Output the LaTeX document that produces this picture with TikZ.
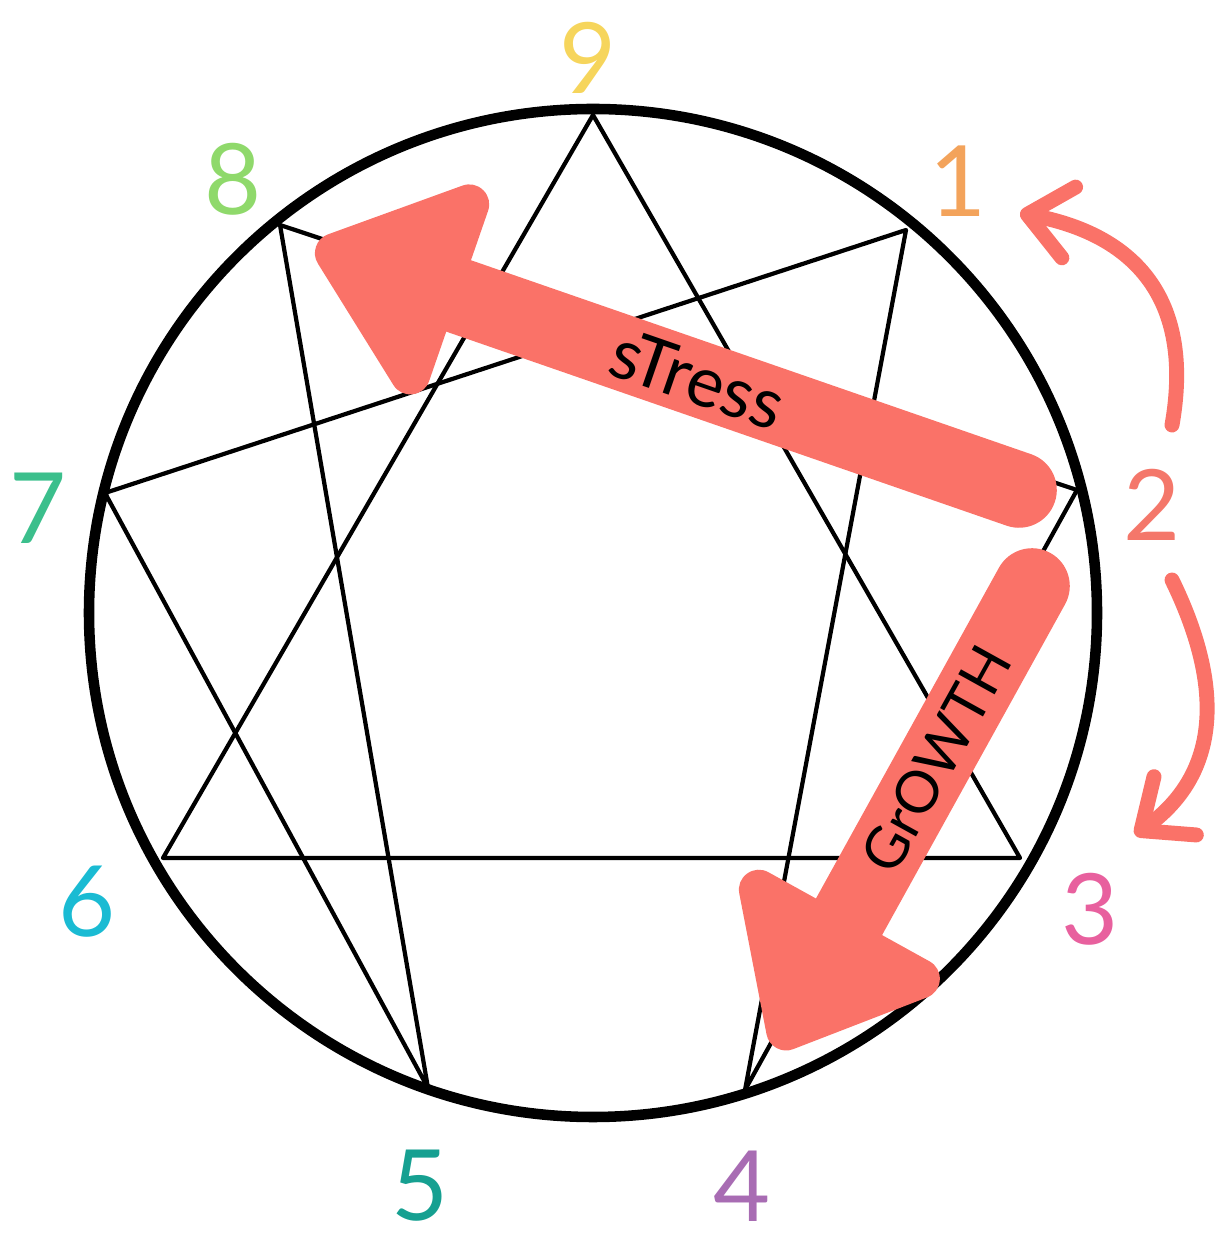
\documentclass[tikz,border=0pt]{standalone}
\usepackage{fontspec}
\setmainfont{Lato}
\usetikzlibrary{arrows.meta}
\definecolor{coral}{HTML}{FA7268}
\definecolor{nine}{HTML}{F6D55C}
\definecolor{one}{HTML}{F3A35B}
\definecolor{two}{HTML}{F4776A}
\definecolor{three}{HTML}{E8609E}
\definecolor{four}{HTML}{A86CB3}
\definecolor{five}{HTML}{16A091}
\definecolor{six}{HTML}{1ABBD3}
\definecolor{seven}{HTML}{3BBF8C}
\definecolor{eight}{HTML}{8FD96B}

\begin{document}
\begin{tikzpicture}[x=0.02cm,y=0.02cm,
  ring/.style={line width=6pt},
  web/.style={line width=2.4pt,line join=round},
  digit/.style={font=\fontsize{56}{56}\selectfont,inner sep=0pt},
  curl/.style={draw=coral,line width=8.5pt,line cap=round,
    -{Straight Barb[length=24pt,width=41pt,round]}},
  fatshaft/.style={draw=coral,line width=43pt,line cap=round},
  fathead/.style={fill=coral,draw=coral,line width=22.7pt,line join=round},
  tag/.style={text=black,inner sep=0pt}]
  \useasboundingbox (0,0) rectangle (1221,1233);

  % Circle and the nine points
  \coordinate (c) at (593,620);
  \draw[ring] (c) circle[radius=504];
  \coordinate (p9) at (593,1118);
  \coordinate (p1) at (906,1003);
  \coordinate (p2) at (1077,743);
  \coordinate (p3) at (1020,375);
  \coordinate (p4) at (745,143);
  \coordinate (p5) at (428,145);
  \coordinate (p6) at (163,375);
  \coordinate (p7) at (105,740);
  \coordinate (p8) at (280,1008);

  % Triangle and hexad
  \draw[web] (p9) -- (p3) -- (p6) -- cycle;
  \draw[web] (p1) -- (p4) -- (p2) -- (p8) -- (p5) -- (p7) -- cycle;

  % Numbers round the circle
  \node[digit,text=nine] (n9) at (588,1175) {9};
  \node[digit,text=one] (n1) at (958,1052) {1};
  \node[digit,text=two] (n2) at (1152,728) {2};
  \node[digit,text=three] (n3) at (1090,324) {3};
  \node[digit,text=four] (n4) at (742,47) {4};
  \node[digit,text=five] (n5) at (420,47) {5};
  \node[digit,text=six] (n6) at (87,331) {6};
  \node[digit,text=seven] (n7) at (38,725) {7};
  \node[digit,text=eight] (n8) at (233,1054) {8};

  % Small bent arrows beside the 2
  \coordinate (upFrom) at (1172,808);
  \coordinate (upTo) at (1020,1020);
  \draw[curl] (upFrom) to[out=80,in=-11,looseness=1.2] (upTo);
  \coordinate (downFrom) at (1172,653);
  \coordinate (downTo) at (1135,398);
  \draw[curl] (downFrom) to[out=-64,in=36,looseness=1.1] (downTo);

  % Stress arrow
  \coordinate (stressTail) at (1019,743);
  \begin{scope}[shift={(stressTail)},rotate=160.9]
    \draw[fatshaft] (0,0) -- (615,0);
    \filldraw[fathead] (724,0) -- (613,90) -- (613,-90) -- cycle;
    \node[tag,font=\fontsize{40}{40}\selectfont,rotate=-19.1] (stress)
      at (340,0) {sTress};
  \end{scope}

  % Growth arrow
  \coordinate (growthTail) at (1032,647);
  \begin{scope}[shift={(growthTail)},rotate=241.05]
    \draw[fatshaft] (0,0) -- (400,0);
    \filldraw[fathead] (508,0) -- (398,92) -- (398,-92) -- cycle;
    \node[tag,font=\fontsize{33}{33}\selectfont,rotate=61] (growth)
      at (198,0) {GrOWTH};
  \end{scope}
\end{tikzpicture}
\end{document}
